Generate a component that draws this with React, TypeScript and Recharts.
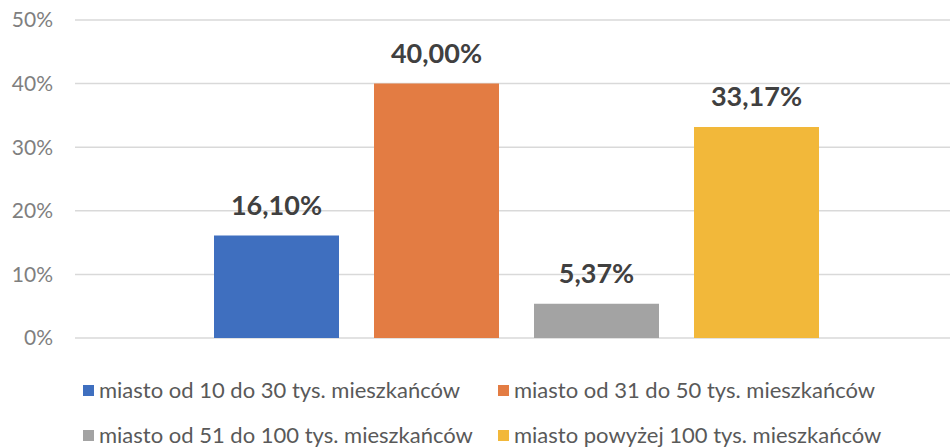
import { BarChart, Bar, XAxis, YAxis, CartesianGrid, LabelList } from 'recharts';

const SERIES_KEYS = ['s1', 's2', 's3', 's4'];
const SERIES_NAMES = [
  'miasto od 10 do 30 tys. mieszkańców',
  'miasto od 31 do 50 tys. mieszkańców',
  'miasto od 51 do 100 tys. mieszkańców',
  'miasto powyżej 100 tys. mieszkańców',
];
const SERIES_VALUES = [16.1, 40.0, 5.37, 33.17];
const Y_TICKS = [0, 10, 20, 30, 40, 50];

const COLORS = ['#3F6FBF', '#E37C43', '#A3A3A3', '#F2B83A'];
const FONT = 'Lato, "Open Sans", sans-serif';

const data = [
  SERIES_KEYS.reduce<Record<string, number | string>>(
    (row, key, i) => {
      row[key] = SERIES_VALUES[i];
      return row;
    },
    { name: 'all' }
  ),
];

const fmt = (v: number) => v.toFixed(2).replace('.', ',') + '%';

const ValueLabel = (props: any) => {
  const { x, y, width, value } = props;
  return (
    <text
      x={x + width / 2}
      y={y - 28}
      textAnchor="middle"
      dominantBaseline="middle"
      fill="#404040"
      fontSize={27}
      fontWeight={700}
      fontFamily={FONT}
    >
      {fmt(value)}
    </text>
  );
};

// legend order: row by row, two columns
const LEGEND_ROWS = [
  [0, 1],
  [2, 3],
];

export default function App() {
  return (
    <div style={{ position: 'absolute', left: 0, top: 0, width: 950, height: 448, background: '#fff', overflow: 'hidden' }}>
      <BarChart
        width={950}
        height={448}
        data={data}
        margin={{ top: 20, right: 0, left: 0, bottom: 110 }}
        barSize={125}
        barGap={35}
      >
        <CartesianGrid vertical={false} stroke="#d9d9d9" strokeWidth={1.5} />
        <XAxis dataKey="name" hide padding={{ left: 8, right: 0 }} />
        <YAxis
          domain={[0, 50]}
          ticks={Y_TICKS}
          width={75}
          axisLine={false}
          tickLine={false}
          tickSize={0}
          tickMargin={22}
          tickFormatter={(v: number) => `${v}%`}
          tick={{ fill: '#7f7f7f', fontSize: 21, fontFamily: FONT }}
        />
        {SERIES_KEYS.map((key, i) => (
          <Bar key={key} dataKey={key} name={SERIES_NAMES[i]} fill={COLORS[i]} isAnimationActive={false}>
            <LabelList dataKey={key} content={ValueLabel} />
          </Bar>
        ))}
      </BarChart>
      {LEGEND_ROWS.map((row, r) => (
        <div key={r} style={{ position: 'absolute', left: 83, top: 377 + r * 45, height: 26 }}>
          {row.map((idx, c) => (
            <div
              key={idx}
              style={{
                position: 'absolute',
                left: c * 415,
                top: 0,
                height: 26,
                display: 'flex',
                alignItems: 'center',
                whiteSpace: 'nowrap',
              }}
            >
              <span style={{ width: 11, height: 11, background: COLORS[idx], marginRight: 5, display: 'inline-block', flexShrink: 0 }} />
              <span style={{ color: '#595959', fontSize: 22, lineHeight: '26px', fontFamily: FONT }}>{SERIES_NAMES[idx]}</span>
            </div>
          ))}
        </div>
      ))}
    </div>
  );
}
